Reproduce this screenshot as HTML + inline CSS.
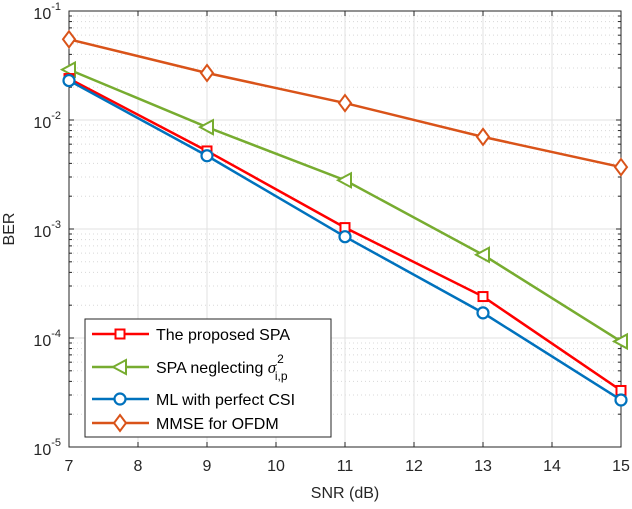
<!DOCTYPE html>
<html><head><meta charset="utf-8"><style>
body{margin:0;background:#fff}
svg{font-family:"Liberation Sans",sans-serif}
</style></head><body>
<svg id="chart" width="632" height="504"></svg>
<script>
const snr=[7,9,11,13,15];
const xTicks=[7,8,9,10,11,12,13,14,15];
const yDecades=[-5,-4,-3,-2,-1];
const proposed=[0.024,0.0052,0.00103,0.00024,0.000033];
const neglecting=[0.029,0.0086,0.0028,0.00058,0.000093];
const mlCsi=[0.023,0.0047,0.00085,0.00017,0.000027];
const mmse=[0.055,0.027,0.0143,0.0070,0.0037];

const NS="http://www.w3.org/2000/svg";
const svg=document.getElementById('chart');
const L=69,R=621,T=11,B=447;
const xs=v=>L+(v-7)/(15-7)*(R-L);
const ys=v=>B-(Math.log10(v)+5)/4*(B-T);
function el(t,a,p){const e=document.createElementNS(NS,t);for(const k in a)e.setAttribute(k,a[k]);(p||svg).appendChild(e);return e;}
const g=el('g',{});


for(const d of yDecades){
  if(d!==-1)for(let m=2;m<=9;m++){const v=m*Math.pow(10,d);
    el('line',{x1:L,x2:R,y1:ys(v),y2:ys(v),stroke:'#d8d8d8','stroke-dasharray':'1,3','stroke-width':1},g);}
  el('line',{x1:L,x2:R,y1:ys(Math.pow(10,d)),y2:ys(Math.pow(10,d)),stroke:'#e2e2e2','stroke-width':1},g);
}
for(const t of xTicks) el('line',{x1:xs(t),x2:xs(t),y1:T,y2:B,stroke:'#e2e2e2','stroke-width':1},g);
el('rect',{x:L,y:T,width:R-L,height:B-T,fill:'none',stroke:'#262626','stroke-width':1});
for(const t of xTicks){
  el('line',{x1:xs(t),x2:xs(t),y1:B,y2:B-5,stroke:'#262626'});
  el('line',{x1:xs(t),x2:xs(t),y1:T,y2:T+5,stroke:'#262626'});
  const tx=el('text',{x:xs(t),y:B+24,'text-anchor':'middle','font-size':16,fill:'#262626'});tx.textContent=t;
  
  
}
for(const d of yDecades){
  const y=ys(Math.pow(10,d));
  for(let m=2;m<=9;m++){ if(d===-1)break; const yy=ys(m*Math.pow(10,d));
    el('line',{x1:L,x2:L+3,y1:yy,y2:yy,stroke:'#262626'});el('line',{x1:R,x2:R-3,y1:yy,y2:yy,stroke:'#262626'});}
  el('line',{x1:L,x2:L+5,y1:y,y2:y,stroke:'#262626'});
  el('line',{x1:R,x2:R-5,y1:y,y2:y,stroke:'#262626'});
  const tx=el('text',{x:L-8,y:y+8,'text-anchor':'end','font-size':16,fill:'#262626'});
  
  
  const a=el('tspan',{},tx);a.textContent='10';
  const b=el('tspan',{dy:-9,'font-size':11},tx);b.textContent=String(d);
}
const xl=el('text',{x:(L+R)/2,y:498,'text-anchor':'middle','font-size':16,fill:'#262626'});xl.textContent='SNR (dB)';

const yl=el('text',{x:14,y:(T+B)/2,'text-anchor':'middle','font-size':16,fill:'#262626',transform:`rotate(-90 14 ${(T+B)/2})`});yl.textContent='BER';


function marker(p,type,x,y,c){
  if(type==='sq')el('rect',{x:x-4.5,y:y-4.5,width:9,height:9,fill:'#fff',stroke:c,'stroke-width':2},p);
  else if(type==='tri')el('polygon',{points:`${x-7},${y} ${x+6},${y-7} ${x+6},${y+7}`,fill:'#fff',stroke:c,'stroke-width':2},p);
  else if(type==='circ')el('circle',{cx:x,cy:y,r:5.5,fill:'#fff',stroke:c,'stroke-width':2.2},p);
  else el('polygon',{points:`${x},${y-8} ${x+6},${y} ${x},${y+8} ${x-6},${y}`,fill:'#fff',stroke:c,'stroke-width':2},p);
}
const series=[
 {d:mmse,c:'#d95319',m:'dia',n:'series-mmse'},
 {d:neglecting,c:'#77ac30',m:'tri',n:'series-spa-neglecting'},
 {d:proposed,c:'#ff0000',m:'sq',n:'series-proposed-spa'},
 {d:mlCsi,c:'#0072bd',m:'circ',n:'series-ml-perfect-csi'}];
for(const s of series){
  const sg=el('g',{});
  
  
  el('polyline',{points:s.d.map((v,i)=>xs(snr[i])+','+ys(v)).join(' '),fill:'none',stroke:s.c,'stroke-width':2.5},sg);
  s.d.forEach((v,i)=>marker(sg,s.m,xs(snr[i]),ys(v),s.c));
}
const lg=el('g',{});


el('rect',{x:85,y:319,width:246,height:118,fill:'#fff',stroke:'#262626','stroke-width':1},lg);
const items=[['The proposed SPA','#ff0000','sq'],['SPA neglecting ','#77ac30','tri'],['ML with perfect CSI','#0072bd','circ'],['MMSE for OFDM','#d95319','dia']];
const rowY=[334,367,399,423];
items.forEach((it,i)=>{
  const y=rowY[i];
  el('line',{x1:92,x2:149,y1:y,y2:y,stroke:it[1],'stroke-width':2.5},lg);
  marker(lg,it[2],120,y,it[1]);
  const t=el('text',{x:156,y:y+6,'font-size':16,fill:'#000'},lg);
  
  
  t.textContent=it[0];
  if(i===1){
    const s1=el('tspan',{'font-style':'italic','font-family':'Liberation Serif','font-size':17},t);s1.textContent='σ';
    const s2=el('tspan',{dx:1,dy:-10,'font-size':12},t);s2.textContent='2';
    const s3=el('tspan',{dx:-9,dy:17,'font-size':12},t);s3.textContent='i,p';
  }
});
</script>
</body></html>
